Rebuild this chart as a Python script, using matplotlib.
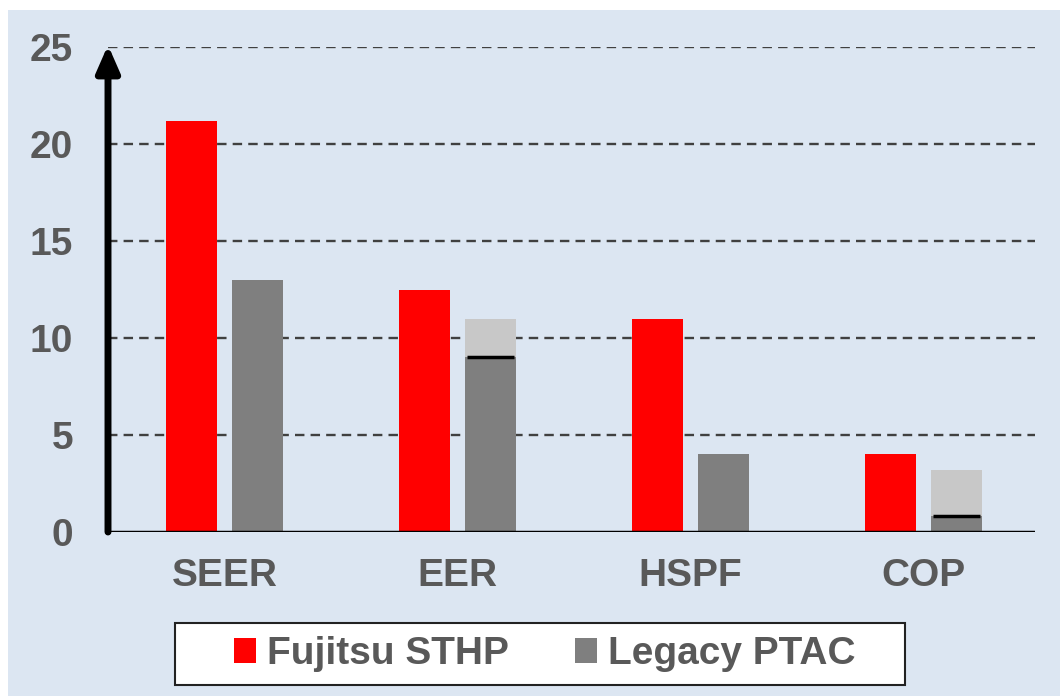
import matplotlib.pyplot as plt
import numpy as np
from matplotlib.patches import Rectangle

categories = ["SEER", "EER", "HSPF", "COP"]
fujitsu = [21.2, 12.5, 11.0, 4.0]
legacy_low = [13.0, 9.0, 4.0, 0.8]
legacy_high = [13.0, 11.0, 4.0, 3.2]
yticks = [0, 5, 10, 15, 20, 25]

red = "#FF0000"
dark_gray = "#7F7F7F"
light_gray = "#C8C8C8"
bg = "#DCE6F2"
txt = "#595959"

plt.rcParams['font.family'] = ['Liberation Sans', 'DejaVu Sans']

fig = plt.figure(figsize=(10.6, 6.96), dpi=100)
fig.patch.set_facecolor("white")
fig.add_artist(Rectangle((8 / 1060, 0), 1, 1 - 10 / 696, transform=fig.transFigure,
                         facecolor=bg, edgecolor="none", zorder=-5))

ax = fig.add_axes([108 / 1060, 1 - 532 / 696, (1035 - 108) / 1060, (532 - 47) / 696])
ax.set_facecolor("none")

x = np.arange(len(categories))
w = 0.22
off = 0.142
ax.bar(x - off, fujitsu, w, color=red, zorder=3, label="Fujitsu STHP")
ax.bar(x + off, legacy_high, w, color=light_gray, zorder=3)
ax.bar(x + off, legacy_low, w, color=dark_gray, zorder=3, label="Legacy PTAC")
# black marker line at the top of the dark part where a range is shown
for xi, lo, hi in zip(x, legacy_low, legacy_high):
    if hi > lo:
        ax.plot([xi + off - w / 2 + 0.01, xi + off + w / 2 - 0.01], [lo, lo],
                color="black", lw=2.5, zorder=4, solid_capstyle="butt")

ax.set_xlim(-0.5, 3.48)
ax.set_ylim(0, 25)
ax.set_yticks(yticks)
for t in yticks[1:]:
    ax.axhline(t, color="#404040", lw=1.7, ls=(0, (4, 2.6)), zorder=1)

for s in ax.spines.values():
    s.set_visible(False)
ax.axhline(0, color="black", lw=2.5, zorder=5)
ax.annotate("", xy=(-0.5, 25.1), xytext=(-0.5, 0), xycoords="data",
            arrowprops=dict(arrowstyle="-|>,head_length=1.6,head_width=0.7",
                            color="black", lw=5, shrinkA=0, shrinkB=0),
            annotation_clip=False, zorder=6)

ax.set_xticks(x)
ax.set_xticklabels(categories)
ax.tick_params(axis="both", length=0, labelsize=28, labelcolor=txt)
ax.tick_params(axis="y", pad=25)
ax.tick_params(axis="x", pad=19)
for lab in ax.get_xticklabels() + ax.get_yticklabels():
    lab.set_fontweight("bold")

# legend box drawn by hand, entries by fig.legend
fig.add_artist(Rectangle((175 / 1060, 1 - 685 / 696), 730 / 1060, 62 / 696,
                         transform=fig.transFigure, facecolor="white",
                         edgecolor="#222222", lw=1.5, zorder=1))
leg = fig.legend(loc="center", bbox_to_anchor=(545 / 1060, 1 - 654 / 696), ncol=2,
                 frameon=False, handlelength=0.55, handleheight=0.6, handletextpad=0.3,
                 columnspacing=1.7, borderpad=0.2,
                 prop={"weight": "bold", "size": 28})
leg.set_zorder(2)
for t in leg.get_texts():
    t.set_color(txt)

fig.savefig("out.png", dpi=100, facecolor=fig.get_facecolor())
